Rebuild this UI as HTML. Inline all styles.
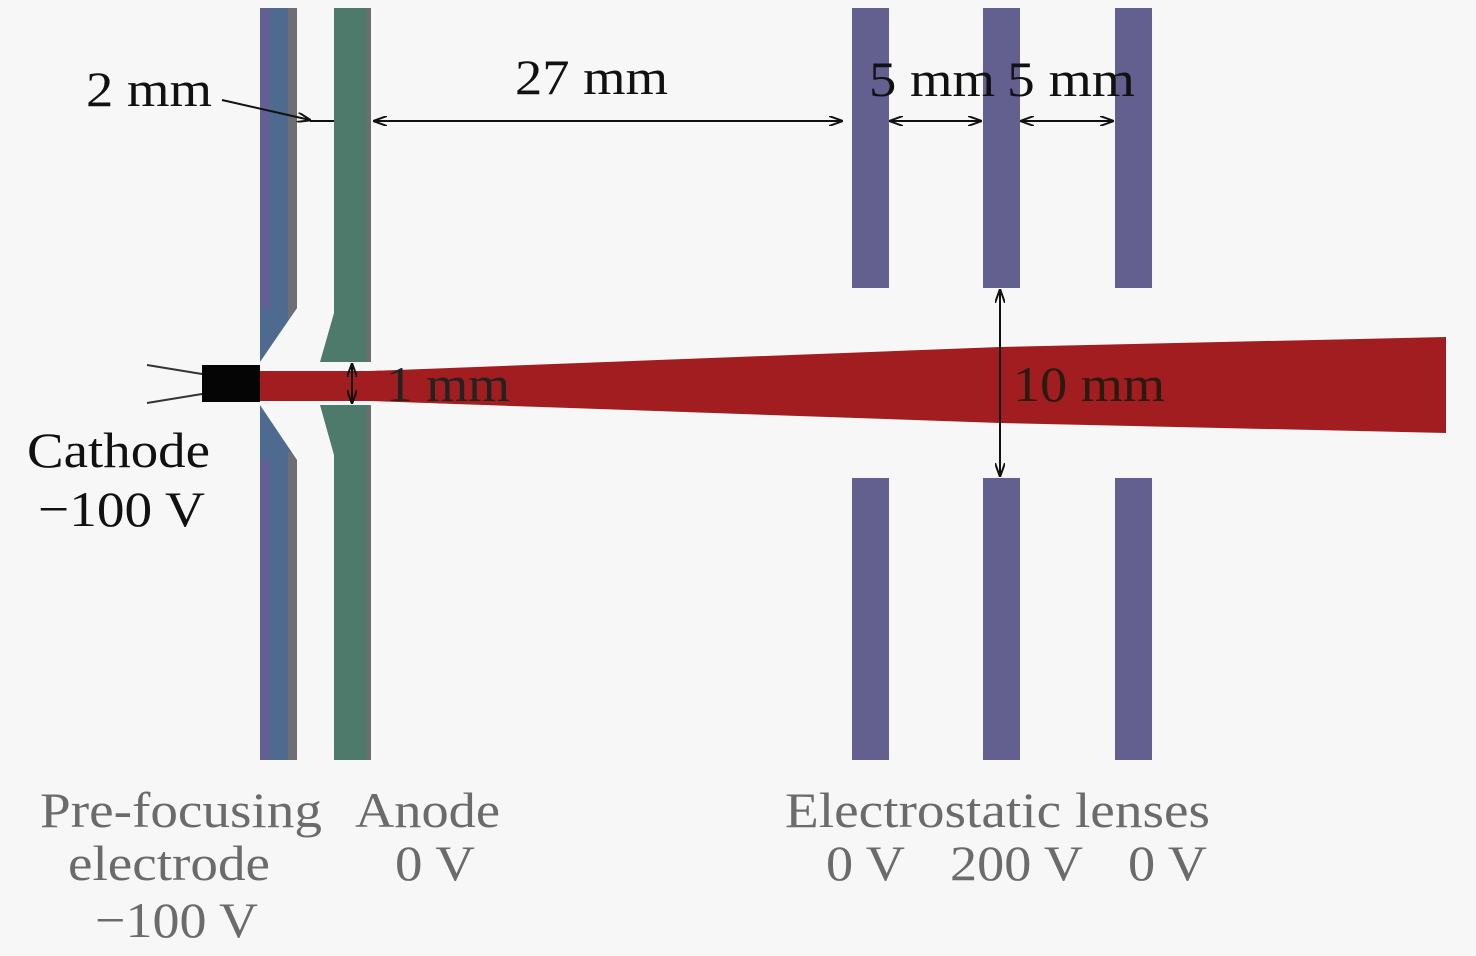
<!DOCTYPE html>
<html><head><meta charset="utf-8"><style>
html,body{margin:0;padding:0;background:#f7f7f7;}
svg{display:block;}
text{font-family:"Liberation Serif",serif;}
</style></head><body>
<svg width="1476" height="956" viewBox="0 0 1476 956" xmlns="http://www.w3.org/2000/svg">
<defs>
<marker id="ah" markerWidth="14" markerHeight="10" refX="13" refY="5" orient="auto-start-reverse" markerUnits="userSpaceOnUse">
<path d="M0,0 L14,5 L0,10" fill="none" stroke="#111" stroke-width="2"/>
</marker>
</defs>
<rect width="1476" height="956" fill="#f7f7f7"/>
<!-- beam -->
<polygon points="258,371 370,371 1000,347 1446,337 1446,433 1000,423 370,401 258,401" fill="#a11d1f"/>
<!-- pre-focusing electrode -->
<polygon points="260,8 297,8 297,308 260,362 260,405 297,460 297,760 260,760" fill="#4f6a8f"/>
<polygon points="288,8 297,8 297,308 290,318 288,318" fill="#6e6e74"/>
<polygon points="288,452 290,452 297,460 297,760 288,760" fill="#6e6e74"/>
<rect x="260" y="8" width="10" height="300" fill="#625f92"/>
<rect x="260" y="460" width="10" height="300" fill="#625f92"/>
<!-- anode -->
<polygon points="334,8 371,8 371,362 320,362 334,313" fill="#4d7a6b"/>
<polygon points="320,405 371,405 371,760 334,760 334,455" fill="#4d7a6b"/>
<rect x="367" y="8" width="4" height="354" fill="#6e6e70"/>
<rect x="367" y="405" width="4" height="355" fill="#6e6e70"/>
<!-- lenses -->
<g fill="#635f8f">
<rect x="852" y="8" width="37" height="280"/><rect x="852" y="478" width="37" height="282"/>
<rect x="983" y="8" width="37" height="280"/><rect x="983" y="478" width="37" height="282"/>
<rect x="1115" y="8" width="37" height="280"/><rect x="1115" y="478" width="37" height="282"/>
</g>
<!-- cathode -->
<rect x="202" y="365" width="58" height="37" fill="#050505"/>
<line x1="147" y1="365" x2="202" y2="374" stroke="#333" stroke-width="2"/>
<line x1="147" y1="403" x2="202" y2="394" stroke="#333" stroke-width="2"/>
<!-- arrows -->
<g stroke="#111" stroke-width="2" fill="none">
<line x1="222" y1="100" x2="310" y2="120" marker-end="url(#ah)"/>
<line x1="310" y1="121" x2="334" y2="121"/>
<line x1="374" y1="121" x2="842" y2="121" marker-start="url(#ah)" marker-end="url(#ah)"/>
<line x1="890" y1="121" x2="981" y2="121" marker-start="url(#ah)" marker-end="url(#ah)"/>
<line x1="1021" y1="121" x2="1113" y2="121" marker-start="url(#ah)" marker-end="url(#ah)"/>
<line x1="1000" y1="290" x2="1000" y2="476" marker-start="url(#ah)" marker-end="url(#ah)"/>
<line x1="352" y1="364" x2="352" y2="403" marker-start="url(#ah)" marker-end="url(#ah)"/>
</g>
<!-- labels -->
<g fill="#111" font-size="50">
<text x="86" y="106" textLength="126" lengthAdjust="spacingAndGlyphs">2 mm</text>
<text x="515" y="94" textLength="153" lengthAdjust="spacingAndGlyphs">27 mm</text>
<text x="869" y="96" textLength="126" lengthAdjust="spacingAndGlyphs">5 mm</text>
<text x="1007" y="96" textLength="128" lengthAdjust="spacingAndGlyphs">5 mm</text>
<text x="386" y="401" textLength="124" lengthAdjust="spacingAndGlyphs" fill="#222">1 mm</text>
<text x="1013" y="401" textLength="152" lengthAdjust="spacingAndGlyphs" fill="#2a1a10">10 mm</text>
<text x="27" y="467" textLength="183" lengthAdjust="spacingAndGlyphs">Cathode</text>
<text x="38" y="526" textLength="167" lengthAdjust="spacingAndGlyphs">−100 V</text>
</g>
<g fill="#6b6b6b" font-size="50">
<text x="40" y="827" textLength="282" lengthAdjust="spacingAndGlyphs">Pre-focusing</text>
<text x="68" y="880" textLength="202" lengthAdjust="spacingAndGlyphs">electrode</text>
<text x="95" y="937" textLength="163" lengthAdjust="spacingAndGlyphs">−100 V</text>
<text x="355" y="827" textLength="145" lengthAdjust="spacingAndGlyphs">Anode</text>
<text x="395" y="880" textLength="80" lengthAdjust="spacingAndGlyphs">0 V</text>
<text x="785" y="827" textLength="425" lengthAdjust="spacingAndGlyphs">Electrostatic lenses</text>
<text x="826" y="880" textLength="79" lengthAdjust="spacingAndGlyphs">0 V</text>
<text x="950" y="880" textLength="133" lengthAdjust="spacingAndGlyphs">200 V</text>
<text x="1128" y="880" textLength="79" lengthAdjust="spacingAndGlyphs">0 V</text>
</g>
</svg>
</body></html>
